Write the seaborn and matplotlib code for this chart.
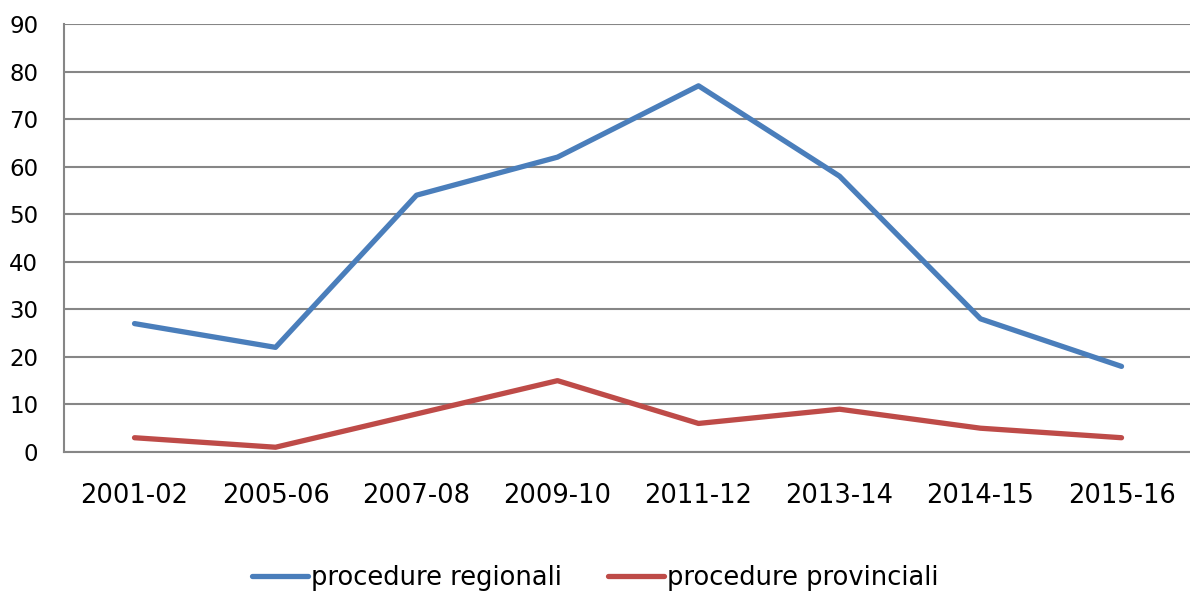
import matplotlib
matplotlib.use("Agg")
import matplotlib.pyplot as plt
import seaborn as sns
import pandas as pd

# Anni scolastici e numero di procedure
anni = ["2001-02", "2005-06", "2007-08", "2009-10", "2011-12", "2013-14", "2014-15", "2015-16"]
regionali = [27, 22, 54, 62, 77, 58, 28, 18]
provinciali = [3, 1, 8, 15, 6, 9, 5, 3]

serie_nomi = ["procedure regionali", "procedure provinciali"]
colori = ["#4a7ebb", "#be4b48"]

df = pd.DataFrame({
    "anno": anni * 2,
    "valore": regionali + provinciali,
    "serie": [serie_nomi[0]] * len(anni) + [serie_nomi[1]] * len(anni),
})
df["pos"] = list(range(len(anni))) * 2

sns.set_theme(style="white")
plt.rcParams["font.family"] = ["DejaVu Sans"]

fig = plt.figure(figsize=(11.9, 5.92), dpi=100)
ax = fig.add_axes([0.0538, 0.2365, 0.9479, 0.723])

sns.lineplot(data=df, x="pos", y="valore", hue="serie", palette=colori,
             linewidth=3.8, ax=ax, legend=False, sort=False)

ax.set_xlim(-0.5, len(anni) - 0.5)
ax.set_ylim(0, 90)
ax.set_yticks(range(0, 91, 10))
ax.set_xticks(range(len(anni)))
ax.set_xticklabels(anni)
ax.set_xlabel("")
ax.set_ylabel("")
ax.tick_params(axis="x", labelsize=18.5, pad=22, length=0, colors="#000000")
ax.tick_params(axis="y", labelsize=16.5, pad=18.5, length=0, colors="#000000")

ax.grid(axis="y", color="#868686", linewidth=1.5)
ax.set_axisbelow(True)
for side in ["top", "right"]:
    ax.spines[side].set_visible(False)
ax.spines["left"].set_color("#868686")
ax.spines["left"].set_linewidth(1.5)
ax.spines["bottom"].set_color("#868686")
ax.spines["bottom"].set_linewidth(1.5)

handles = [plt.Line2D([], [], color=c, linewidth=3.8) for c in colori]
leg = fig.legend(handles, serie_nomi, loc="lower center", bbox_to_anchor=(0.5, -0.038),
                 ncol=2, frameon=False, fontsize=18.5, handlelength=2.2,
                 handletextpad=0.1, columnspacing=1.8)
for t in leg.get_texts():
    t.set_color("#000000")

fig.savefig("out.png", dpi=100)
